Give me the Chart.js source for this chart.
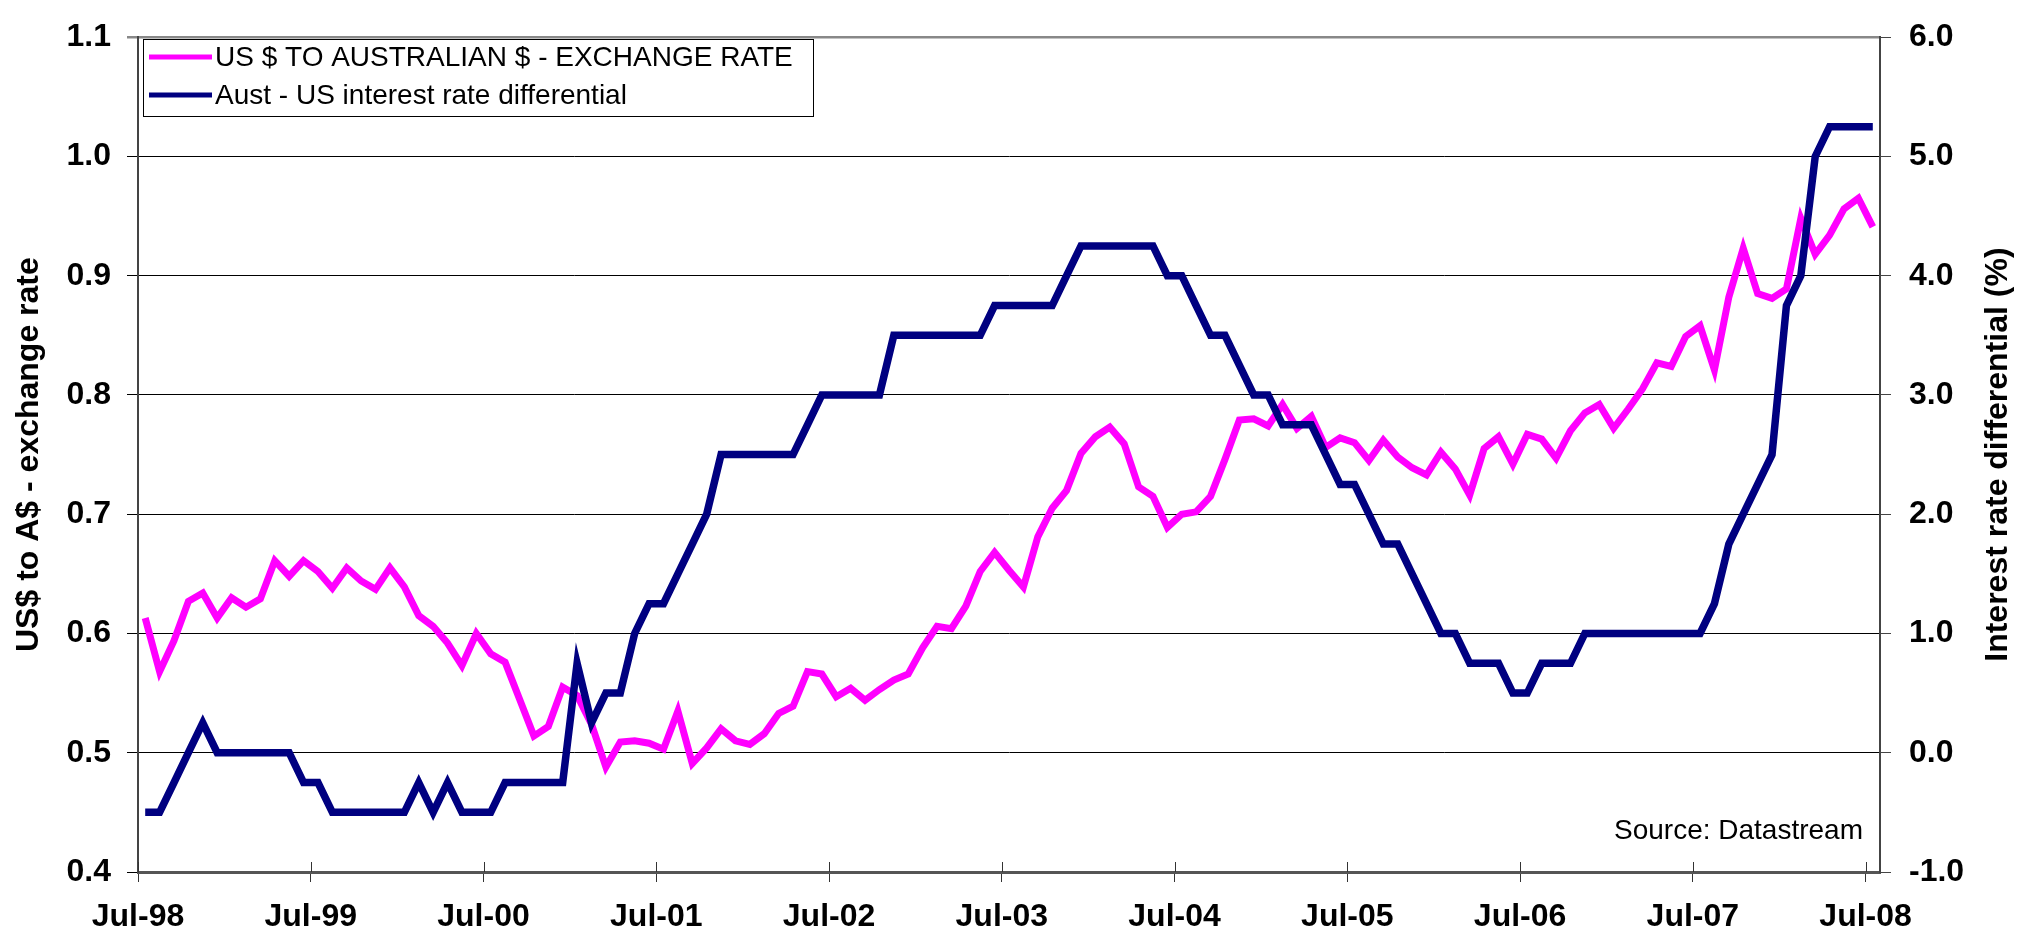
<!DOCTYPE html>
<html>
<head>
<meta charset="utf-8">
<title>US$ to A$ exchange rate vs interest rate differential</title>
<script src="https://cdn.jsdelivr.net/npm/chart.js@4.4.1/dist/chart.umd.min.js"></script>
<style>
  html, body { margin: 0; padding: 0; background: #ffffff; }
  #wrap { width: 2033px; height: 936px; }
</style>
</head>
<body>
<div id="wrap"><canvas id="fx_chart" width="2033" height="936"></canvas></div>
<script>
// monthly, Jul-98 .. Jul-08
var year_labels = ["Jul-98", "Jul-99", "Jul-00", "Jul-01", "Jul-02", "Jul-03",
  "Jul-04", "Jul-05", "Jul-06", "Jul-07", "Jul-08"];

var series_names = ["US $ TO AUSTRALIAN $ - EXCHANGE RATE",
  "Aust - US interest rate differential"];

var exchange_rate = [
  0.613, 0.568, 0.594, 0.627, 0.634, 0.613, 0.630, 0.622, 0.629, 0.661, 0.648, 0.661,
  0.652, 0.638, 0.655, 0.644, 0.637, 0.655, 0.639, 0.615, 0.606, 0.592, 0.573, 0.600,
  0.583, 0.576, 0.545, 0.514, 0.522, 0.555, 0.548, 0.524, 0.488, 0.509, 0.510, 0.508,
  0.503, 0.535, 0.491, 0.504, 0.520, 0.510, 0.507, 0.516, 0.533, 0.539, 0.568, 0.566,
  0.547, 0.554, 0.544, 0.553, 0.561, 0.566, 0.588, 0.606, 0.604, 0.623, 0.652, 0.668,
  0.653, 0.639, 0.681, 0.705, 0.720, 0.751, 0.765, 0.773, 0.759, 0.723, 0.715, 0.689,
  0.700, 0.702, 0.715, 0.746, 0.779, 0.780, 0.774, 0.792, 0.772, 0.782, 0.756, 0.764,
  0.760, 0.745, 0.762, 0.748, 0.739, 0.733, 0.752, 0.738, 0.716, 0.755, 0.765, 0.742,
  0.767, 0.763, 0.747, 0.770, 0.785, 0.792, 0.772, 0.788, 0.805, 0.827, 0.824, 0.849,
  0.858, 0.821, 0.882, 0.923, 0.885, 0.881, 0.889, 0.948, 0.918, 0.934, 0.956, 0.965,
  0.941
];

var rate_differential = [
  -0.5, -0.5, -0.25, 0, 0.25, 0, 0, 0, 0, 0, 0, -0.25,
  -0.25, -0.5, -0.5, -0.5, -0.5, -0.5, -0.5, -0.25, -0.5, -0.25, -0.5, -0.5,
  -0.5, -0.25, -0.25, -0.25, -0.25, -0.25, 0.75, 0.25, 0.5, 0.5, 1.0, 1.25,
  1.25, 1.5, 1.75, 2.0, 2.5, 2.5, 2.5, 2.5, 2.5, 2.5, 2.75, 3.0,
  3.0, 3.0, 3.0, 3.0, 3.5, 3.5, 3.5, 3.5, 3.5, 3.5, 3.5, 3.75,
  3.75, 3.75, 3.75, 3.75, 4.0, 4.25, 4.25, 4.25, 4.25, 4.25, 4.25, 4.0,
  4.0, 3.75, 3.5, 3.5, 3.25, 3.0, 3.0, 2.75, 2.75, 2.75, 2.5, 2.25,
  2.25, 2.0, 1.75, 1.75, 1.5, 1.25, 1.0, 1.0, 0.75, 0.75, 0.75, 0.5,
  0.5, 0.75, 0.75, 0.75, 1.0, 1.0, 1.0, 1.0, 1.0, 1.0, 1.0, 1.0,
  1.0, 1.25, 1.75, 2.0, 2.25, 2.5, 3.75, 4.0, 5.0, 5.25, 5.25, 5.25,
  5.25
];

var series_colors = ["#FF00FF", "#000080"];
var font_family = "'Liberation Sans', Arial, Helvetica, sans-serif";

function toPoints(values) {
  return values.map(function (v, i) {
    return { x: i, y: v };
  });
}

// legend, axis titles, source note and the inner half of the x ticks
var overlay = {
  id: "overlay",
  afterDraw: function (chart) {
    var ctx = chart.ctx;
    var area = chart.chartArea;
    var xs = chart.scales.x;
    ctx.save();

    ctx.strokeStyle = "#333333";
    ctx.lineWidth = 1;
    xs.ticks.forEach(function (t) {
      var px = Math.round(xs.getPixelForValue(t.value)) + 0.5;
      ctx.beginPath();
      ctx.moveTo(px, area.bottom);
      ctx.lineTo(px, area.bottom - 10);
      ctx.stroke();
    });

    // legend box
    ctx.fillStyle = "#ffffff";
    ctx.fillRect(143, 39, 670, 77);
    ctx.strokeStyle = "#000000";
    ctx.lineWidth = 1;
    ctx.strokeRect(143.5, 39.5, 670, 77);
    ctx.font = "28px " + font_family;
    ctx.textAlign = "left";
    ctx.textBaseline = "middle";
    var rows = [57, 95];
    for (var i = 0; i < series_names.length; i++) {
      ctx.strokeStyle = series_colors[i];
      ctx.lineWidth = 5;
      ctx.beginPath();
      ctx.moveTo(149, rows[i]);
      ctx.lineTo(212, rows[i]);
      ctx.stroke();
      ctx.fillStyle = "#000000";
      ctx.fillText(series_names[i], 215, rows[i] + 1);
    }

    // axis titles, both read bottom to top
    ctx.font = "bold 32px " + font_family;
    ctx.textAlign = "center";
    ctx.fillStyle = "#000000";
    var mid = (area.top + area.bottom) / 2;
    ctx.save();
    ctx.translate(29, mid);
    ctx.rotate(-Math.PI / 2);
    ctx.fillText("US$ to A$ - exchange rate", 0, 0);
    ctx.restore();
    ctx.save();
    ctx.translate(1998, mid);
    ctx.rotate(-Math.PI / 2);
    ctx.fillText("Interest rate differential (%)", 0, 0);
    ctx.restore();

    ctx.font = "28px " + font_family;
    ctx.textAlign = "right";
    ctx.fillText("Source: Datastream", 1863, 831);
    ctx.restore();
  },
};

var ctx = document.getElementById("fx_chart");
var fx_chart = new Chart(ctx, {
  type: "line",
  data: {
    datasets: [
      {
        label: series_names[0],
        data: toPoints(exchange_rate),
        yAxisID: "y",
        borderColor: series_colors[0],
        borderWidth: 7,
        pointRadius: 0,
        tension: 0,
        order: 1,
      },
      {
        label: series_names[1],
        data: toPoints(rate_differential),
        yAxisID: "y1",
        borderColor: series_colors[1],
        borderWidth: 7.5,
        pointRadius: 0,
        tension: 0,
        order: 0,
      },
    ],
  },
  options: {
    responsive: false,
    animation: false,
    devicePixelRatio: 1,
    layout: { padding: { top: 21, left: 0, right: 0, bottom: 0 } },
    plugins: {
      legend: { display: false },
      tooltip: { enabled: false },
    },
    scales: {
      x: {
        type: "linear",
        min: -0.5,
        max: 120.5,
        afterBuildTicks: function (scale) {
          scale.ticks = year_labels.map(function (lab, k) {
            return { value: -0.5 + 12 * k };
          });
        },
        afterFit: function (scale) {
          scale.height = 64;
        },
        ticks: {
          autoSkip: false,
          maxRotation: 0,
          padding: 16,
          color: "#000000",
          font: { family: font_family, size: 32, weight: "bold" },
          callback: function (value, index) {
            return year_labels[index];
          },
        },
        grid: {
          drawOnChartArea: false,
          tickLength: 10,
          color: "#333333",
        },
        border: { color: "#555555", width: 3 },
      },
      y: {
        position: "left",
        min: 0.4,
        max: 1.1,
        afterBuildTicks: function (scale) {
          var t = [];
          for (var k = 0; k <= 7; k++) t.push({ value: 0.4 + k * 0.1 });
          scale.ticks = t;
        },
        afterFit: function (scale) {
          scale.width = 138;
        },
        ticks: {
          padding: 16,
          color: "#000000",
          font: { family: font_family, size: 32, weight: "bold" },
          callback: function (value) {
            return value.toFixed(1);
          },
        },
        grid: {
          tickLength: 11,
          color: function (c) {
            return c.tick && Math.abs(c.tick.value - 1.1) < 1e-6 ? "#888888" : "#000000";
          },
          lineWidth: function (c) {
            return c.tick && Math.abs(c.tick.value - 1.1) < 1e-6 ? 2.5 : 1;
          },
        },
        border: { color: "#444444", width: 2 },
      },
      y1: {
        position: "right",
        min: -1,
        max: 6,
        afterBuildTicks: function (scale) {
          var t = [];
          for (var k = -1; k <= 6; k++) t.push({ value: k });
          scale.ticks = t;
        },
        afterFit: function (scale) {
          scale.width = 153;
        },
        ticks: {
          padding: 18,
          color: "#000000",
          font: { family: font_family, size: 32, weight: "bold" },
          callback: function (value) {
            return value.toFixed(1);
          },
        },
        grid: {
          drawOnChartArea: false,
          tickLength: 11,
          color: "#444444",
        },
        border: { color: "#444444", width: 2 },
      },
    },
  },
  plugins: [overlay],
});
</script>
</body>
</html>
